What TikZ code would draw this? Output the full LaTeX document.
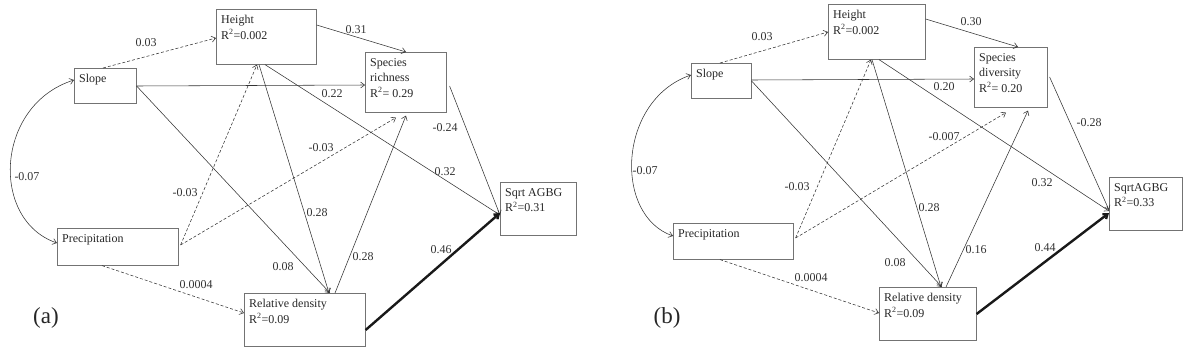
\documentclass[tikz,border=0pt]{standalone}
\usepackage{fontspec}
\setmainfont{Liberation Serif}
\usetikzlibrary{arrows.meta,calc}
\begin{document}
\begin{tikzpicture}[x=1pt,y=-1pt,
  box/.style={draw=black!55, line width=0.6pt, anchor=north west, inner sep=0pt},
  txt/.style={anchor=north west, align=left, inner xsep=5pt, inner ysep=6pt, font=\fontsize{12}{15.5}\selectfont, text=black!85},
  lbl/.style={font=\fontsize{12}{13}\selectfont, text=black!80, inner sep=1pt},
  plbl/.style={font=\fontsize{23}{26}\selectfont, text=black!85, inner sep=0pt},
  arr/.style={draw=black!80, line width=0.55pt, -{Straight Barb[length=4pt,width=6pt]}},
  darr/.style={arr, dash pattern=on 3pt off 2pt},
  tarr/.style={draw=black!90, line width=2.4pt, -{Straight Barb[length=4pt,width=6pt]}},
  barr/.style={draw=black!80, line width=0.55pt, {Straight Barb[length=4pt,width=6pt]}-{Straight Barb[length=4pt,width=6pt]}}
]
\useasboundingbox (0,0) rectangle (1188,362);
% ---------------- panel (a) ----------------
\node[box, minimum width=62pt, minimum height=35pt] (aSl) at (74,68) {};
\node[box, minimum width=121pt, minimum height=37pt] (aPr) at (57,228) {};
\node[box, minimum width=100pt, minimum height=55pt] (aH) at (216,9) {};
\node[box, minimum width=81pt, minimum height=60pt] (aSp) at (365,52) {};
\node[box, minimum width=76pt, minimum height=53pt] (aSq) at (500,182) {};
\node[box, minimum width=121pt, minimum height=53pt] (aRD) at (244,293) {};
\node[txt] (aSlt) at (aSl.north west) {Slope};
\node[txt] (aPrt) at (aPr.north west) {Precipitation};
\node[txt] (aHt) at (aH.north west) {Height\\R\textsuperscript{2}=0.002};
\node[txt] (aSpt) at (aSp.north west) {Species\\richness\\R\textsuperscript{2}= 0.29};
\node[txt] (aSqt) at (aSq.north west) {Sqrt AGBG\\R\textsuperscript{2}=0.31};
\node[txt] (aRDt) at (aRD.north west) {Relative density\\R\textsuperscript{2}=0.09};
\node[plbl] (aLab) at (46,318) {(a)};

\draw[darr] ([shift={(29,0)}]aSl.north west) -- ([shift={(0,29)}]aH.north west);
\draw[arr] ([shift={(0,16)}]aH.north east) -- ([shift={(41,0)}]aSp.north west);
\draw[arr] ([shift={(0,18)}]aSl.north east) -- ([shift={(0,33)}]aSp.north west);
\draw[arr] ([shift={(0,18)}]aSl.north east) -- ([shift={(86,0)}]aRD.north west);
\draw[arr] ([shift={(43,0)}]aH.south west) -- ([shift={(85,0)}]aRD.north west);
\draw[arr] ([shift={(49,0)}]aH.south west) -- ([shift={(0,33)}]aSq.north west);
\draw[arr] ([shift={(3,34)}]aSp.north east) -- ([shift={(0,33)}]aSq.north west);
\draw[darr] ([shift={(2,17)}]aPr.north east) -- ([shift={(41,0)}]aH.south west);
\draw[darr] ([shift={(2,17)}]aPr.north east) -- ([shift={(31,5)}]aSp.south west);
\draw[arr] ([shift={(91,0)}]aRD.north west) -- ([shift={(41,3)}]aSp.south west);
\draw[tarr] ([shift={(0,37)}]aRD.north east) -- ([shift={(0,31)}]aSq.north west);
\draw[darr] ([shift={(45,0)}]aPr.south west) -- ([shift={(0,20)}]aRD.north west);
\draw[barr] ([shift={(0,12)}]aSl.north west) .. controls (-5,105) and (-10,220) .. ([shift={(0,15)}]aPr.north west);

\node[lbl] (a1) at (146,43) {0.03};
\node[lbl] (a2) at (356,30) {0.31};
\node[lbl] (a3) at (332,94) {0.22};
\node[lbl] (a4) at (283,267) {0.08};
\node[lbl] (a5) at (317,213) {0.28};
\node[lbl] (a6) at (445,172) {0.32};
\node[lbl] (a7) at (445,128) {-0.24};
\node[lbl] (a8) at (185,193) {-0.03};
\node[lbl] (a9) at (321,148) {-0.03};
\node[lbl] (a10) at (363,257) {0.28};
\node[lbl] (a11) at (441,250) {0.46};
\node[lbl] (a12) at (196,285) {0.0004};
\node[lbl] (a13) at (27,177) {-0.07};

% ---------------- panel (b) ----------------
\node[box, minimum width=60pt, minimum height=35pt] (bSl) at (691,63) {};
\node[box, minimum width=120pt, minimum height=36pt] (bPr) at (673,223) {};
\node[box, minimum width=97pt, minimum height=55pt] (bH) at (828,4) {};
\node[box, minimum width=73pt, minimum height=60pt] (bSp) at (974,47) {};
\node[box, minimum width=73pt, minimum height=53pt] (bSq) at (1109,177) {};
\node[box, minimum width=97pt, minimum height=53pt] (bRD) at (879,287) {};
\node[txt] (bSlt) at (bSl.north west) {Slope};
\node[txt] (bPrt) at (bPr.north west) {Precipitation};
\node[txt] (bHt) at (bH.north west) {Height\\R\textsuperscript{2}=0.002};
\node[txt] (bSpt) at (bSp.north west) {Species\\diversity\\R\textsuperscript{2}= 0.20};
\node[txt] (bSqt) at (bSq.north west) {SqrtAGBG\\R\textsuperscript{2}=0.33};
\node[txt] (bRDt) at (bRD.north west) {Relative density\\R\textsuperscript{2}=0.09};
\node[plbl] (bLab) at (667,318) {(b)};

\draw[darr] ([shift={(29,0)}]bSl.north west) -- ([shift={(0,28)}]bH.north west);
\draw[arr] ([shift={(0,15)}]bH.north east) -- ([shift={(44,0)}]bSp.north west);
\draw[arr] ([shift={(0,17)}]bSl.north east) -- ([shift={(0,32)}]bSp.north west);
\draw[arr] ([shift={(0,18)}]bSl.north east) -- ([shift={(63,0)}]bRD.north west);
\draw[arr] ([shift={(44,0)}]bH.south west) -- ([shift={(62,0)}]bRD.north west);
\draw[arr] ([shift={(51,0)}]bH.south west) -- ([shift={(0,34)}]bSq.north west);
\draw[arr] ([shift={(2,30)}]bSp.north east) -- ([shift={(0,33)}]bSq.north west);
\draw[darr] ([shift={(2,15)}]bPr.north east) -- ([shift={(43,0)}]bH.south west);
\draw[darr] ([shift={(2,15)}]bPr.north east) -- ([shift={(32,5)}]bSp.south west);
\draw[arr] ([shift={(67,0)}]bRD.north west) -- ([shift={(54,3)}]bSp.south west);
\draw[tarr] ([shift={(0,27)}]bRD.north east) -- ([shift={(0,36)}]bSq.north west);
\draw[darr] ([shift={(47,0)}]bPr.south west) -- ([shift={(0,26)}]bRD.north west);
\draw[barr] ([shift={(0,12)}]bSl.north west) .. controls (618,100) and (613,215) .. ([shift={(0,13)}]bPr.north west);

\node[lbl] (b1) at (762,37) {0.03};
\node[lbl] (b2) at (971,22) {0.30};
\node[lbl] (b3) at (944,87) {0.20};
\node[lbl] (b4) at (895,263) {0.08};
\node[lbl] (b5) at (929,208) {0.28};
\node[lbl] (b6) at (1042,183) {0.32};
\node[lbl] (b7) at (1089,123) {-0.28};
\node[lbl] (b8) at (797,187) {-0.03};
\node[lbl] (b9) at (944,137) {-0.007};
\node[lbl] (b10) at (976,250) {0.16};
\node[lbl] (b11) at (1045,248) {0.44};
\node[lbl] (b12) at (811,278) {0.0004};
\node[lbl] (b13) at (645,171) {-0.07};
\end{tikzpicture}
\end{document}
